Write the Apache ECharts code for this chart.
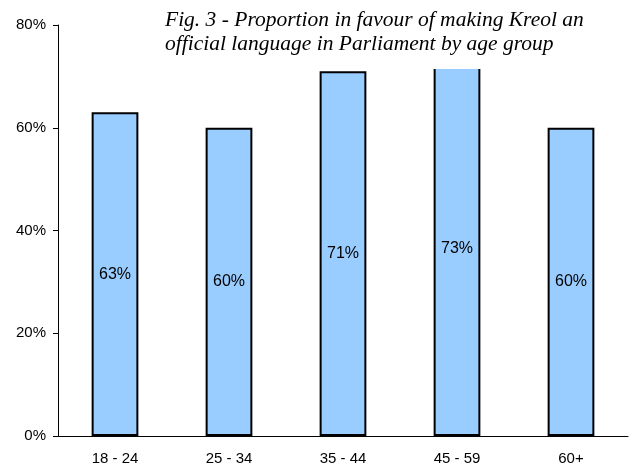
<!DOCTYPE html>
<html>
<head>
<meta charset="utf-8">
<script src="https://cdn.jsdelivr.net/npm/echarts@6/dist/echarts.min.js"></script>
<style>
  html, body { margin: 0; padding: 0; background: #fff; }
  #chart { width: 629px; height: 468px; }
</style>
</head>
<body>
<div id="chart"></div>
<script>
const ageGroups = ['18 - 24', '25 - 34', '35 - 44', '45 - 59', '60+'];
const inFavour = [63, 60, 71, 73, 60];
const yTicks = [0, 20, 40, 60, 80];
const titleLines = [
    'Fig. 3 - Proportion in favour of making Kreol an',
    'official language in Parliament by age group'
];

const chart = echarts.init(document.getElementById('chart'), null, { renderer: 'canvas' });

chart.setOption({
    animation: false,
    backgroundColor: '#ffffff',
    grid: { left: 58, right: 1, top: 25, bottom: 32 },
    xAxis: {
        type: 'category',
        data: ageGroups,
        axisLine: { lineStyle: { color: '#000', width: 1 } },
        axisTick: { show: false },
        axisLabel: { color: '#000', fontFamily: 'Liberation Sans', fontSize: 15, margin: 15 }
    },
    yAxis: {
        type: 'value',
        min: yTicks[0],
        max: yTicks[yTicks.length - 1],
        interval: 20,
        splitLine: { show: false },
        axisLine: { show: true, lineStyle: { color: '#000', width: 1 } },
        axisTick: { show: true, length: 5, lineStyle: { color: '#000' } },
        axisLabel: {
            color: '#000', fontFamily: 'Liberation Sans', fontSize: 15, margin: 12,
            formatter: v => v + '%'
        }
    },
    series: [{
        type: 'bar',
        data: inFavour,
        barWidth: '41%',
        itemStyle: { color: '#99ccff', borderColor: '#000', borderWidth: 2 },
        label: {
            show: true,
            position: 'inside',
            color: '#000',
            fontFamily: 'Liberation Sans',
            fontSize: 16,
            formatter: p => p.value + '%'
        }
    }],
    graphic: [
        {
            type: 'rect', z: 100,
            shape: { x: 150, y: 0, width: 479, height: 69 },
            style: { fill: '#fff' }
        },
        {
            type: 'text', z: 101, left: 165, top: 8,
            style: {
                text: titleLines.join('\n'),
                font: 'italic 21.5px "Liberation Serif"',
                lineHeight: 24,
                fill: '#000'
            }
        }
    ]
});
</script>
</body>
</html>
